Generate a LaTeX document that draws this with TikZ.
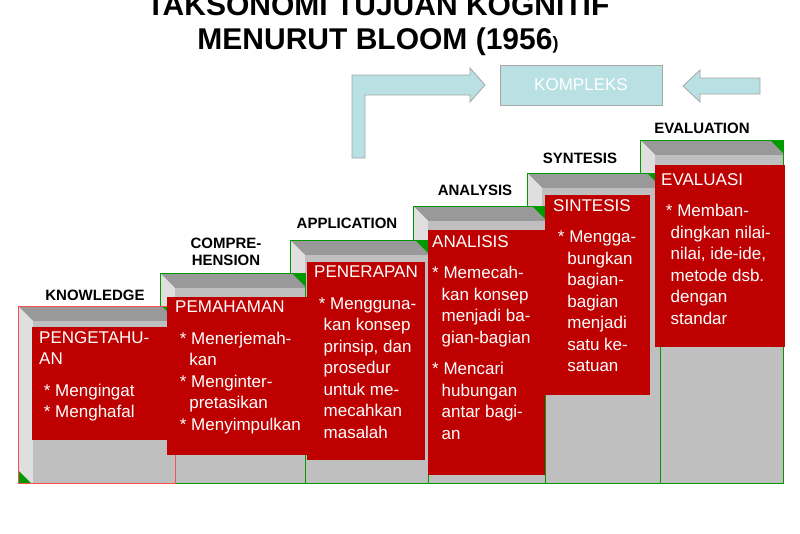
\documentclass[tikz,border=0pt]{standalone}
\usepackage{fontspec}
\setmainfont{Liberation Sans}
\begin{document}
\begin{tikzpicture}[x=1pt,y=-1pt,
  lbl/.style={font=\bfseries\fontsize{15}{17}\selectfont,align=center,inner sep=0},
  redbox/.style={fill=red!75!black,draw=none},
  rtxt/.style={anchor=north west,text=white,align=left,font=\fontsize{17}{21.5}\selectfont,inner sep=0},
  arr/.style={fill={rgb,255:red,185;green,224;blue,227},draw=gray!70,line width=0.8}]
\fill[white] (0,0) rectangle (800,533);
\useasboundingbox (0,0) rectangle (800,533);
\newcommand{\blk}[3]{%
 \fill[gray!80] (#1,#3) -- (#2,#3) -- (#2,#3+15) -- (#1+15,#3+15) -- cycle;
 \fill[gray!25] (#1,#3) -- (#1+15,#3+15) -- (#1+15,483) -- (#1,483) -- cycle;
 \fill[gray!50] (#1+15,#3+15) rectangle (#2,483);
 \fill[green!60!black] (#2-13,#3) -- (#2,#3) -- (#2,#3+13) -- cycle;
 \fill[green!60!black] (#1,470) -- (#1+13,483) -- (#1,483) -- cycle;
 \draw[green!60!black,line width=0.8] (#1,#3) rectangle (#2,483);}
\blk{640}{783}{140}
\blk{527}{660}{173}
\blk{413}{545}{206}
\blk{290}{428}{240}
\blk{160}{305}{273}
\blk{18}{175}{306}
\draw[red!70,line width=0.8] (18,306) rectangle (175,483);
% red boxes
\fill[redbox] (32,327) rectangle (168,440);
\fill[redbox] (167,297) rectangle (307,455);
\fill[redbox] (307,262) rectangle (425,460);
\fill[redbox] (428,230) rectangle (545,475);
\fill[redbox] (545,195) rectangle (650,395);
\fill[redbox] (655,165) rectangle (785,347);
\node[rtxt] (t1) at (39,331) {PENGETAHU-\\AN\\[10pt]\ * Mengingat\\\ * Menghafal};
\node[rtxt] (t2) at (175,301) {PEMAHAMAN\\[10pt]\ * Menerjemah-\\\ \ \ kan\\\ * Menginter-\\\ \ \ pretasikan\\\ * Menyimpulkan};
\node[rtxt] (t3) at (314,266) {PENERAPAN\\[10pt]\ * Mengguna-\\\ \ kan konsep\\\ \ prinsip, dan\\\ \ prosedur\\\ \ untuk me-\\\ \ mecahkan\\\ \ masalah};
\node[rtxt] (t4) at (432,235) {ANALISIS\\[10pt]* Memecah-\\\ \ kan konsep\\\ \ menjadi ba-\\\ \ gian-bagian\\[10pt]* Mencari\\\ \ hubungan\\\ \ antar bagi-\\\ \ an};
\node[rtxt] (t5) at (553,199) {SINTESIS\\[10pt]\ * Mengga-\\\ \ \ bungkan\\\ \ \ bagian-\\\ \ \ bagian\\\ \ \ menjadi\\\ \ \ satu ke-\\\ \ \ satuan};
\node[rtxt] (t6) at (661,173) {EVALUASI\\[10pt]\ * Memban-\\\ \ dingkan nilai-\\\ \ nilai, ide-ide,\\\ \ metode dsb.\\\ \ dengan\\\ \ standar};
% labels
\node[lbl] (l1) at (95,295) {KNOWLEDGE};
\node[lbl] (l2) at (226,252) {COMPRE-\\HENSION};
\node[lbl] (l3) at (347,223) {APPLICATION};
\node[lbl] (l4) at (475,190) {ANALYSIS};
\node[lbl] (l5) at (580,158) {SYNTESIS};
\node[lbl] (l6) at (702,128) {EVALUATION};
% title
\node[font=\bfseries\fontsize{30}{34}\selectfont,align=center] (title) at (378,25) {TAKSONOMI TUJUAN KOGNITIF\\MENURUT BLOOM (1956{\fontsize{18}{18}\selectfont)}};
% arrows
\draw[arr] (352,158) -- (352,75) -- (470,75) -- (470,68) -- (485,85) -- (470,102) -- (470,95) -- (365,95) -- (365,158) -- cycle;
\node[arr,draw,minimum width=162,minimum height=40,text=white,font=\fontsize{17}{17}\selectfont] (k) at (581,85) {KOMPLEKS};
\draw[arr] (760,78) -- (700,78) -- (700,70) -- (683,86) -- (700,102) -- (700,94) -- (760,94) -- cycle;
\end{tikzpicture}
\end{document}
